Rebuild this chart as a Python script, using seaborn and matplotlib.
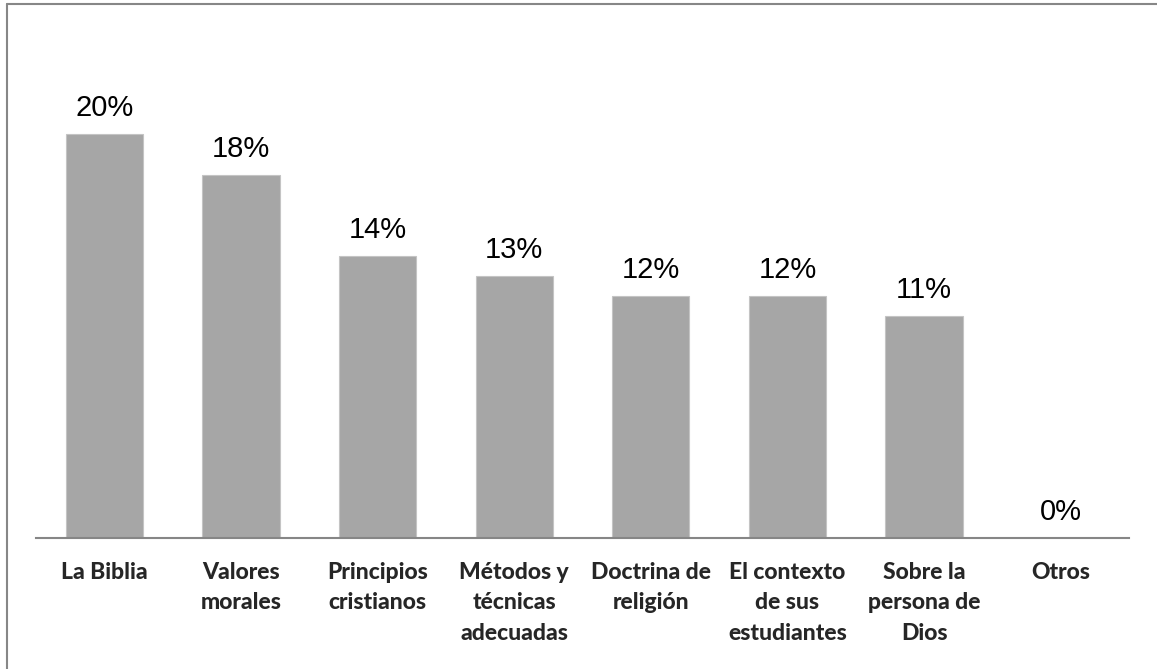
import pandas as pd
import matplotlib
matplotlib.use("Agg")
import matplotlib.pyplot as plt
import seaborn as sns
from matplotlib.lines import Line2D

# Datos
categorias = [
    "La Biblia",
    "Valores\nmorales",
    "Principios\ncristianos",
    "Métodos y\ntécnicas\nadecuadas",
    "Doctrina de\nreligión",
    "El contexto\nde sus\nestudiantes",
    "Sobre la\npersona de\nDios",
    "Otros",
]
porcentajes = [20, 18, 14, 13, 12, 12, 11, 0]

df = pd.DataFrame({"categoria": categorias, "porcentaje": porcentajes})

sns.set_style("white")
plt.rcParams["font.family"] = ["Liberation Sans", "DejaVu Sans"]

fig = plt.figure(figsize=(11.57, 6.69), dpi=100)
ax = fig.add_axes([0.0311, 0.1951, 0.9447, 0.7549])

sns.barplot(
    data=df,
    x="categoria",
    y="porcentaje",
    color="#A6A6A6",
    saturation=1,
    width=0.566,
    edgecolor="#C4C4C4",
    linewidth=0.8,
    ax=ax
)

for i, valor in enumerate(porcentajes):
    ax.annotate(
        f"{valor}%",
        xy=(i, valor),
        xytext=(0, 13),
        textcoords="offset points",
        ha="center",
        va="baseline",
        fontsize=21,
        color="black",
        family=["Liberation Sans", "DejaVu Sans"]
    )

ax.set_ylim(0, 25)
ax.set_xlabel("")
ax.set_ylabel("")
ax.set_yticks([])

for lado in ["top", "left", "right"]:
    ax.spines[lado].set_visible(False)
ax.spines["bottom"].set_color("#868686")
ax.spines["bottom"].set_linewidth(1.5)

ax.tick_params(axis="x", length=0, pad=17)
for etiqueta in ax.get_xticklabels():
    etiqueta.set_fontfamily(["Lato", "DejaVu Sans"])
    etiqueta.set_fontweight(900)
    etiqueta.set_fontsize(16.5)
    etiqueta.set_linespacing(1.55)
    etiqueta.set_multialignment("center")

# Borde del gráfico
bx = 6.5 / 1157
by = 1 - 4 / 669
fig.add_artist(Line2D([bx, bx], [0, by], transform=fig.transFigure,
                      color="#878787", linewidth=1.5))
fig.add_artist(Line2D([bx, 1], [by, by], transform=fig.transFigure,
                      color="#878787", linewidth=1.5))

fig.savefig("out.png", dpi=100)
